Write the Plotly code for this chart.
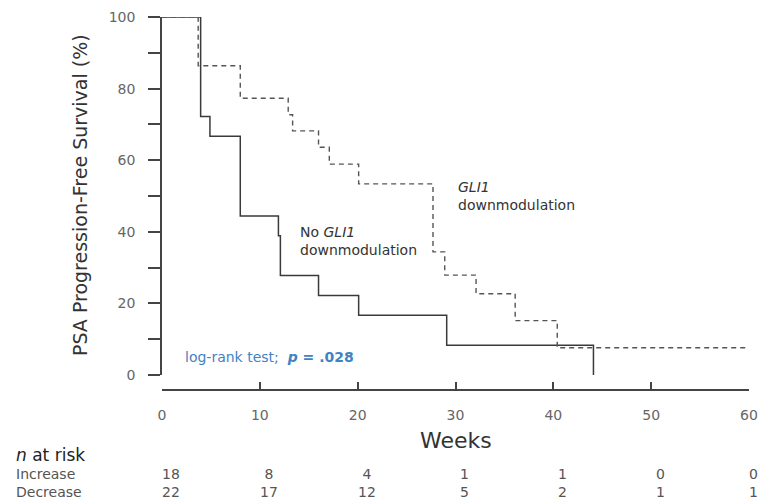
import plotly.graph_objects as go

# ---- data ----
inc_weeks = [0, 3.95, 4.9, 8.0, 11.9, 12.1, 16.0, 20.1, 29.1, 44.1, 44.1]
inc_surv = [100, 72.2, 66.7, 44.4, 38.9, 27.8, 22.2, 16.7, 8.3, 0, 0]

dec_weeks = [0, 3.7, 8.0, 12.9, 13.35, 16.0, 17.1, 20.1, 27.7, 28.9, 32.1, 36.1, 40.4, 60.2]
dec_surv = [100, 86.4, 77.3, 72.7, 68.2, 63.6, 58.9, 53.4, 34.4, 27.9, 22.7, 15.2, 7.6, 7.6]

risk_weeks = [0, 10, 20, 30, 40, 50, 60]
risk_increase = [18, 8, 4, 1, 1, 0, 0]
risk_decrease = [22, 17, 12, 5, 2, 1, 1]
risk_groups = ["Increase", "Decrease"]

y_ticks = list(range(0, 101, 10))
y_ticklabels = [str(v) if v % 20 == 0 else "" for v in y_ticks]
x_ticks = [0, 10, 20, 30, 40, 50, 60]

# ---- geometry helpers ----
W, H = 761, 500
L, R, T, B = 162, 12, 17, 110
PW = W - L - R
PH = H - T - B


def px(x):
    return (x - L) / PW


def py(y):
    return (H - B - y) / PH


FONT = "DejaVu Sans"

fig = go.Figure()
fig.add_trace(go.Scatter(
    x=inc_weeks, y=inc_surv, mode="lines", line=dict(shape="hv", color="#3a3a3a", width=1.5),
    showlegend=False, hoverinfo="skip"))
fig.add_trace(go.Scatter(
    x=dec_weeks, y=dec_surv, mode="lines",
    line=dict(shape="hv", color="#555555", width=1.4, dash="5px,4px"),
    showlegend=False, hoverinfo="skip"))

annotations = []
# y-axis title
annotations.append(dict(text="PSA Progression-Free Survival (%)", xref="paper", yref="paper",
                        x=px(80), y=py(195), xanchor="center", yanchor="middle", textangle=-90,
                        showarrow=False, font=dict(family=FONT, size=19, color="#333333")))
# x-axis title
annotations.append(dict(text="Weeks", xref="paper", yref="paper", x=px(456), y=py(440),
                        xanchor="center", yanchor="middle", showarrow=False,
                        font=dict(family=FONT, size=22, color="#333333")))
# curve labels
annotations.append(dict(text="No <i>GLI1</i><br>downmodulation", xref="x", yref="y",
                        x=13.9, y=37.4, xanchor="left", yanchor="middle", align="left",
                        showarrow=False, font=dict(family=FONT, size=14, color="#333333")))
annotations.append(dict(text="<i>GLI1</i><br>downmodulation", xref="x", yref="y",
                        x=30.0, y=50.0, xanchor="left", yanchor="middle", align="left",
                        showarrow=False, font=dict(family=FONT, size=14, color="#333333")))
annotations.append(dict(text="log-rank test;  <b><i>p</i> = .028</b>", xref="x", yref="y",
                        x=2.1, y=5.0, xanchor="left", yanchor="middle", align="left",
                        showarrow=False, font=dict(family=FONT, size=14, color="#3f83c2")))
# risk table: row labels as one block
annotations.append(dict(
    text="<span style='font-size:17px;color:#222222'><i>n</i> at risk</span><br>"
         + "<br>".join(risk_groups),
    xref="paper", yref="paper", x=px(15), y=py(472), xanchor="left", yanchor="middle",
    align="left", showarrow=False, borderpad=0,
    font=dict(family=FONT, size=14, color="#555555")))
for wk, a, b in zip(risk_weeks, risk_increase, risk_decrease):
    annotations.append(dict(text=f"{a}<br>{b}", xref="x", yref="paper", x=wk, y=py(483),
                            xshift=4 if wk == risk_weeks[-1] else 9,
                            xanchor="center", yanchor="middle", align="center",
                            showarrow=False, borderpad=0,
                            font=dict(family=FONT, size=14, color="#555555")))

fig.update_layout(
    width=W, height=H,
    margin=dict(l=L, r=R, t=T, b=B, autoexpand=False),
    paper_bgcolor="white", plot_bgcolor="white",
    annotations=annotations,
    xaxis=dict(range=[0, 60], tickvals=x_ticks, ticktext=[str(v) for v in x_ticks],
               anchor="free", position=0, showline=True, linecolor="#444444", linewidth=1.5,
               ticks="inside", ticklen=7, tickwidth=1.5, tickcolor="#444444",
               ticklabelstandoff=12, showgrid=False, zeroline=False, automargin=False,
               tickfont=dict(family=FONT, size=14, color="#666666")),
    yaxis=dict(range=[0, 100], domain=[(390 - 375) / PH, 1], tickvals=y_ticks, ticktext=y_ticklabels,
               showline=True, linecolor="#444444", linewidth=1.5, ticks="outside", ticklen=12,
               tickwidth=1.5, tickcolor="#444444", ticklabelstandoff=10, showgrid=False,
               zeroline=False, automargin=False,
               tickfont=dict(family=FONT, size=14, color="#666666")),
)

fig.write_html("out.html")
